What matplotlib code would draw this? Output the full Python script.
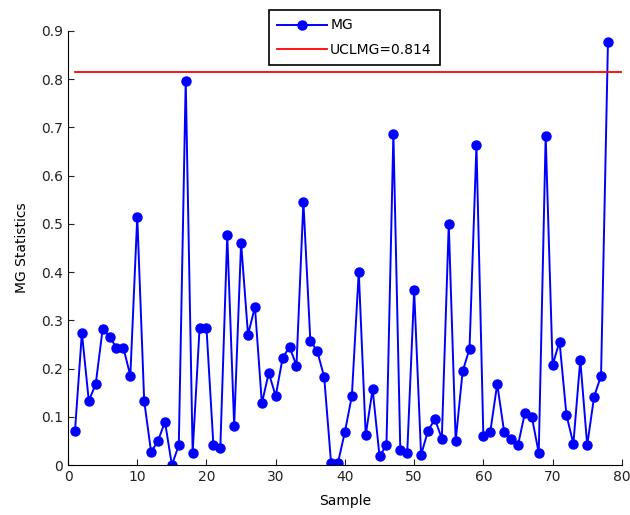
import numpy as np
import matplotlib.pyplot as plt

plt.rcParams['font.family'] = ['DejaVu Sans']

# MG statistic for each sample
sample = list(range(1, 79))
mg = [0.070, 0.274, 0.133, 0.168, 0.282, 0.266, 0.243, 0.243, 0.185, 0.515,
      0.133, 0.027, 0.050, 0.090, 0.000, 0.041, 0.797, 0.026, 0.284, 0.284,
      0.041, 0.036, 0.477, 0.081, 0.461, 0.270, 0.328, 0.128, 0.191, 0.143,
      0.222, 0.245, 0.206, 0.546, 0.258, 0.236, 0.183, 0.004, 0.005, 0.069,
      0.143, 0.401, 0.062, 0.157, 0.018, 0.041, 0.687, 0.031, 0.025, 0.362,
      0.021, 0.071, 0.095, 0.055, 0.500, 0.050, 0.194, 0.241, 0.663, 0.060,
      0.069, 0.168, 0.069, 0.055, 0.041, 0.108, 0.100, 0.025, 0.683, 0.207,
      0.256, 0.104, 0.044, 0.218, 0.041, 0.142, 0.185, 0.878]
ucl = 0.814
ucl_x = [1, 80]

fig = plt.figure(figsize=(6.3, 5.15), dpi=100)
ax = fig.add_axes([0.108, 0.097, 0.879, 0.843])

ax.plot(sample, mg, color='blue', lw=1.4, marker='o', ms=6.5,
        mfc='blue', mec='blue', label='MG')
ax.plot(ucl_x, [ucl, ucl], color='red', lw=1.3, label='UCLMG=%.3f' % ucl)

ax.set_xlim(0, 80)
ax.set_ylim(0, 0.9)
ax.set_xticks(np.arange(0, 81, 10))
ax.set_yticks(np.arange(0, 0.91, 0.1))
ax.set_yticklabels(['0'] + ['%.1f' % v for v in np.arange(0.1, 0.91, 0.1)])
ax.tick_params(direction='in', labelsize=10, length=4, colors='#222222')
ax.spines['top'].set_visible(False)
ax.spines['right'].set_visible(False)

ax.set_xlabel('Sample', fontsize=10, labelpad=7)
ax.set_ylabel('MG Statistics', fontsize=10, labelpad=9)

leg = ax.legend(loc='upper left', bbox_to_anchor=(0.363, 1.048), fontsize=10,
                fancybox=False, edgecolor='black', framealpha=1,
                handlelength=3.6, borderpad=0.6, labelspacing=0.75,
                handletextpad=0.2, borderaxespad=0)
leg.get_frame().set_linewidth(1.2)

fig.savefig('out.png', dpi=100)
